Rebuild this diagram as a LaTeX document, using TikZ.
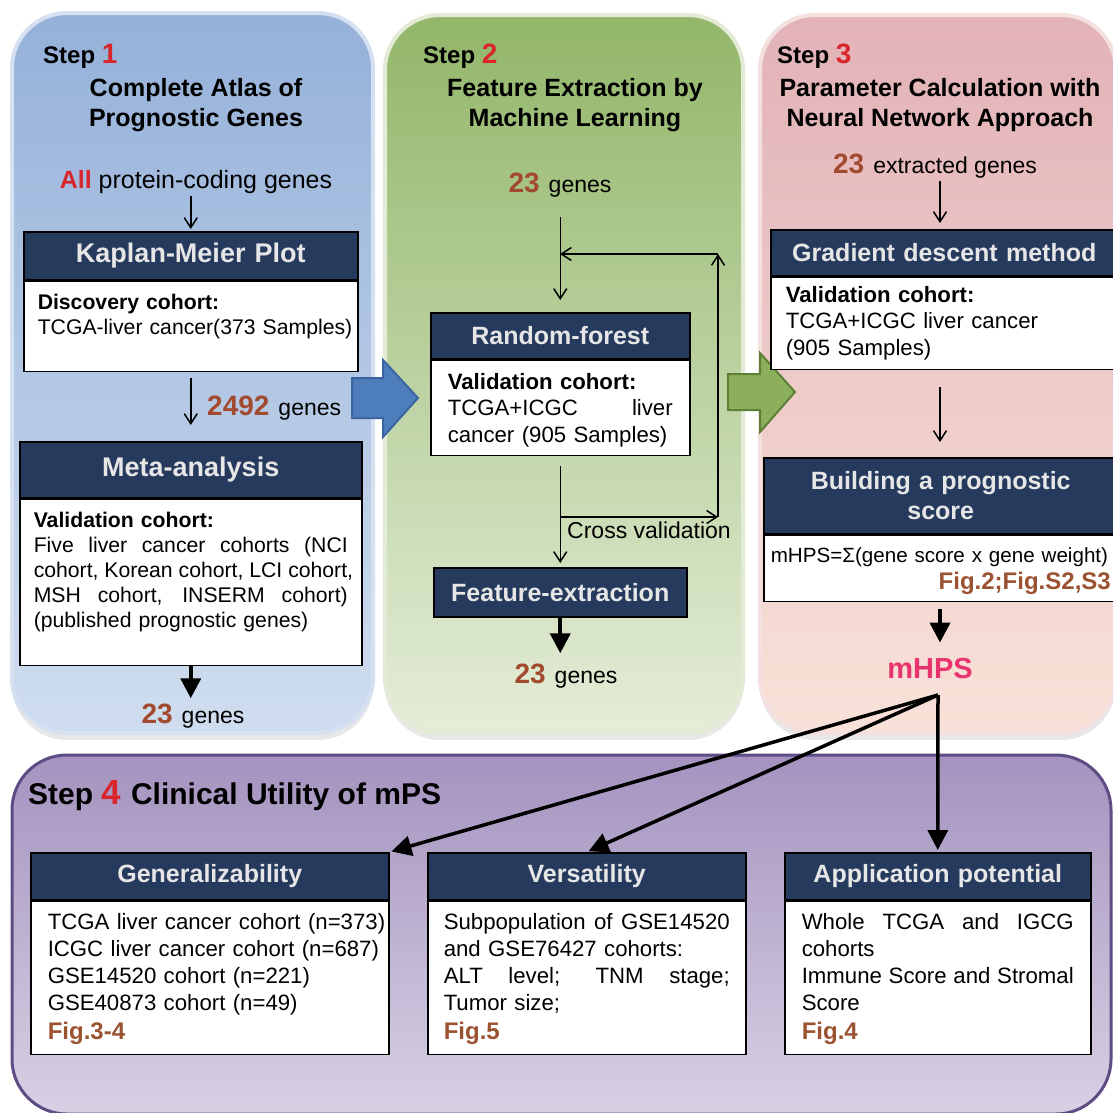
\documentclass[tikz,border=0pt]{standalone}
\usepackage{fontspec}
\setmainfont{Liberation Sans}
\usetikzlibrary{arrows.meta,positioning,shadows}

\definecolor{navy}{HTML}{263A5E}
\definecolor{hdrtext}{HTML}{E6E6E6}
\definecolor{stepred}{HTML}{D8262C}
\definecolor{numbrown}{HTML}{A24A30}
\definecolor{figbrown}{HTML}{9B5230}
\definecolor{mhpspink}{HTML}{E8336E}
\definecolor{blueA}{HTML}{95B1D9}
\definecolor{blueB}{HTML}{D0DDEF}
\definecolor{blueE}{HTML}{D5E1F1}
\definecolor{greenA}{HTML}{92B669}
\definecolor{greenB}{HTML}{E4EDD8}
\definecolor{greenE}{HTML}{E3EBD6}
\definecolor{pinkA}{HTML}{E2B2B7}
\definecolor{pinkB}{HTML}{F8E2D8}
\definecolor{pinkE}{HTML}{F4E0DF}
\definecolor{purpA}{HTML}{A493BF}
\definecolor{purpB}{HTML}{D8D1E4}
\definecolor{purpE}{HTML}{5E4C84}
\definecolor{arrblue}{HTML}{4D7DBB}
\definecolor{arrblueE}{HTML}{3A65A2}
\definecolor{arrgreen}{HTML}{8CAF5C}
\definecolor{arrgreenE}{HTML}{5D7F36}

\newcommand{\stepfont}{\fontsize{24}{28}\selectfont\bfseries}
\newcommand{\titlefont}{\fontsize{25}{30}\selectfont\bfseries}
\newcommand{\hdrfont}{\fontsize{25}{30}\selectfont\bfseries}
\newcommand{\bodytxt}{\fontsize{22.2}{26.5}\selectfont}
\newcommand{\bodytxtb}{\fontsize{22.2}{27}\selectfont}
\newcommand{\bodytxts}{\fontsize{21.2}{25}\selectfont}
\newcommand{\numfont}{\fontsize{28}{30}\selectfont\bfseries\color{numbrown}}
\newcommand{\genefont}{\fontsize{23}{28}\selectfont}
\newcommand{\figfont}{\fontsize{24}{28}\selectfont\bfseries\color{figbrown}}
\newcommand{\jline}[1]{\makebox[\linewidth][s]{\spaceskip=\fontdimen2\font plus 1fil\relax #1}}
\newcommand{\stepno}[1]{\textcolor{stepred}{\fontsize{28}{30}\selectfont #1}}
\newcommand{\gn}[2]{{\numfont #1}\hspace{9pt}{\genefont #2}}

\begin{document}
\begin{tikzpicture}[
  x=1pt, y=-1pt,
  panel/.style={rounded corners=55pt, line width=4pt, shading angle=45},
  shade/.style={drop shadow={shadow xshift=0pt, shadow yshift=-7pt, opacity=0.18}},
  hdr/.style={draw=black, line width=1.5pt, fill=navy, text=hdrtext, font=\hdrfont, align=center, inner sep=0pt, anchor=north west},
  bodybox/.style={draw=black, line width=1.5pt, fill=white, align=left, font=\bodytxt, inner ysep=0pt},
  lbl/.style={inner sep=0pt, anchor=base},
  ttl/.style={font=\titlefont, align=center, anchor=north, inner sep=0pt},
  arr/.style={-{Straight Barb[length=10pt,width=13pt]}, line width=1.5pt},
  fatarr/.style={-{Triangle[length=20pt,width=20pt]}, line width=4pt},
  fanarr/.style={-{Triangle[length=20pt,width=20pt]}, line width=3.5pt, shorten >=2pt},
  bigarrow/.style={line width=2pt, line join=miter},
]
\useasboundingbox (0,0) rectangle (1113,1112);
\clip (0,0) rectangle (1113,1112);
\fill[white] (0,0) rectangle (1113,1112);

\draw[panel, shade, draw=blueE, top color=blueA, bottom color=blueB] (12,13) rectangle (373,733);
\draw[panel, shade, draw=greenE, top color=greenA, bottom color=greenB] (385,15) rectangle (743,733);
\draw[panel, shade, draw=pinkE, top color=pinkA, bottom color=pinkB] (760,15) rectangle (1116,733);
\draw[panel, line width=3pt, draw=purpE, top color=purpA, bottom color=purpB] (12,755) rectangle (1111,1114);

\draw[bigarrow, draw=arrblueE, fill=arrblue] (352,378) -- (383,378) -- (383,360) -- (418,398) -- (383,437) -- (383,418) -- (352,418) -- cycle;
\draw[bigarrow, draw=arrgreenE, fill=arrgreen] (728,374) -- (760,374) -- (760,353) -- (795,392) -- (760,432) -- (760,410) -- (728,410) -- cycle;

\node[lbl, anchor=base west, font=\stepfont] (s1) at (43,63) {Step \stepno{1}};
\node[ttl] (t1) at (196,78) {Complete Atlas of\\Prognostic Genes};
\node[lbl, font=\fontsize{25}{30}\selectfont] (allg) at (196,188) {\textcolor{stepred}{\bfseries All} protein-coding genes};
\node[hdr, minimum height=48pt, text width=334pt, font=\fontsize{27}{30}\selectfont\bfseries] (kmh) at (23,231) {Kaplan-Meier Plot};
\node[bodybox, below=0pt of kmh, text width=306pt, inner xsep=14pt, text height=28pt, text depth=62pt, font=\bodytxts] (kmb) {\textbf{Discovery cohort:}\\\mbox{TCGA-liver cancer(373 Samples)}};
\node[lbl, anchor=base west] (n2492) at (207,415) {\gn{2492}{genes}};
\node[hdr, minimum height=56pt, text width=342pt, font=\fontsize{27}{30}\selectfont\bfseries] (metah) at (19,441) {Meta-analysis};
\node[bodybox, below=0pt of metah, text width=314pt, inner xsep=14pt, text height=28pt, text depth=138pt, font=\bodytxts] (metab) {\textbf{Validation cohort:}\\\jline{Five liver cancer cohorts (NCI}\\\jline{cohort, Korean cohort, LCI cohort,}\\\jline{MSH cohort, INSERM cohort)}\\(published prognostic genes)};
\node[lbl] (g1) at (193,723) {\gn{23}{genes}};

\node[lbl, anchor=base west, font=\stepfont] (s2) at (423,63) {Step \stepno{2}};
\node[ttl] (t2) at (575,78) {Feature Extraction by\\Machine Learning};
\node[lbl] (g2) at (560,192) {\gn{23}{genes}};
\node[hdr, minimum height=46pt, text width=259pt] (rfh) at (430,312) {Random-forest};
\node[bodybox, below=0pt of rfh, text width=225pt, inner xsep=17pt, text height=29pt, text depth=66pt] (rfb) {\textbf{Validation cohort:}\\\jline{TCGA+ICGC\hfill liver}\\cancer (905 Samples)};
\node[hdr, minimum height=49pt, text width=253pt] (feh) at (433,567) {Feature-extraction};
\node[lbl, anchor=base west, font=\genefont] (cv) at (567,538) {Cross validation};
\node[lbl] (g3) at (566,683) {\gn{23}{genes}};
\coordinate (cvsplit) at (560,517);
\coordinate (cvright) at (718,517);
\coordinate (cvtop) at (718,254);
\coordinate (cvjoin) at (560,254);

\node[lbl, anchor=base west, font=\stepfont] (s3) at (777,63) {Step \stepno{3}};
\node[ttl] (t3) at (940,78) {Parameter Calculation with\\Neural Network Approach};
\node[lbl] (e3) at (935,173) {\gn{23}{extracted genes}};
\node[hdr, minimum height=46pt, text width=347pt] (gdh) at (770,229) {Gradient descent method};
\node[bodybox, below=0pt of gdh, text width=317pt, inner xsep=15pt, text height=25pt, text depth=67pt] (gdb) {\textbf{Validation cohort:}\\TCGA+ICGC liver cancer\\(905 Samples)};
\node[hdr, minimum height=76pt, text width=354pt] (bdh) at (763,457) {Building a prognostic\\score};
\node[bodybox, below=0pt of bdh, text width=340pt, inner xsep=7pt, text height=27pt, text depth=39pt, font=\fontsize{20.6}{27}\selectfont] (bdb) {\mbox{mHPS=Σ(gene score x gene weight)}\\\hspace*{\fill}{\figfont Fig.2;Fig.S2,S3}};
\node[lbl, font=\fontsize{29}{32}\selectfont\bfseries, text=mhpspink] (mhps) at (930,678) {mHPS};
\coordinate (c3) at (940,0);
\coordinate (fan) at (938,695);

\node[lbl, anchor=base west, font=\fontsize{30}{32}\selectfont\bfseries] (s4) at (28,804) {Step \textcolor{stepred}{\fontsize{35}{36}\selectfont 4}\hspace{10pt}Clinical Utility of mPS};
\node[hdr, minimum height=47pt, text width=358pt] (genh) at (30,852) {Generalizability};
\node[bodybox, below=0pt of genh, text width=324pt, inner xsep=17pt, text height=28pt, text depth=125pt, font=\bodytxtb] (genb) {\mbox{TCGA liver cancer cohort (n=373)}\\\mbox{ICGC liver cancer cohort (n=687)}\\GSE14520 cohort (n=221)\\GSE40873 cohort (n=49)\\[2pt]{\figfont Fig.3-4}};
\node[hdr, minimum height=47pt, text width=318pt] (verh) at (427,852) {Versatility};
\node[bodybox, below=0pt of verh, text width=286pt, inner xsep=16pt, text height=28pt, text depth=125pt, font=\bodytxtb] (verb) {\jline{Subpopulation of GSE14520}\\and GSE76427 cohorts:\\\jline{ALT level; TNM stage;}\\Tumor size;\\[2pt]{\figfont Fig.5}};
\node[hdr, minimum height=47pt, text width=306pt] (apph) at (784,852) {Application potential};
\node[bodybox, below=0pt of apph, text width=272pt, inner xsep=17pt, text height=28pt, text depth=125pt, font=\bodytxtb] (appb) {\jline{Whole TCGA and IGCG}\\cohorts\\\jline{Immune Score and Stromal}\\Score\\[2pt]{\figfont Fig.4}};

\draw[arr, shorten <=3pt, shorten >=2pt] (kmh.north |- allg.south) -- (kmh.north);
\draw[arr, shorten <=6pt, shorten >=16pt] (kmb.south) -- (metah.north);
\draw[fatarr, shorten >=5pt] (metab.south) -- (metab.south |- g1.north);

\draw[arr, shorten <=20pt, shorten >=12pt] (g2.south -| rfh.north) -- (rfh.north);
\draw[arr, shorten <=10pt, shorten >=4pt] (rfb.south) -- (feh.north);
\draw[arr] (cvsplit) -- (cvright);
\draw[arr] (cvright) -- (cvtop);
\draw[arr] (cvtop) -- (cvjoin);
\draw[fatarr, shorten >=10pt] (feh.south) -- (feh.south |- g3.north);

\draw[arr, shorten <=3pt, shorten >=6pt] (c3 |- e3.south) -- (c3 |- gdh.north);
\draw[arr, shorten <=17pt, shorten >=15pt] (c3 |- gdb.south) -- (c3 |- bdh.north);
\draw[fatarr, shorten <=7pt, shorten >=15pt] (c3 |- bdb.south) -- (c3 |- mhps.north);

\draw[fanarr] (fan) -- (genh.north east);
\draw[fanarr] (fan) -- (verh.north);
\draw[fanarr] (fan) -- (apph.north);
\end{tikzpicture}
\end{document}
